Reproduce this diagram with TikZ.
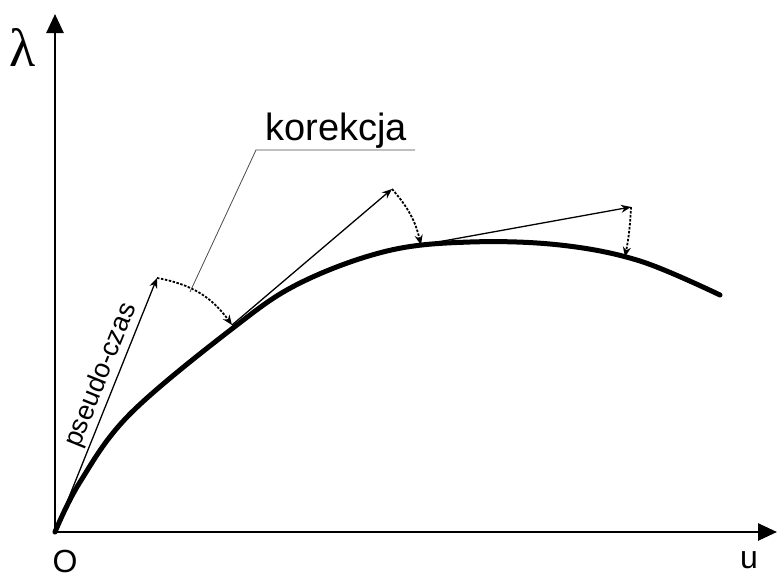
\documentclass[tikz,border=0pt]{standalone}
\usepackage{fontspec}
\setmainfont{Liberation Sans}
\newfontfamily\greekfont{Liberation Serif}
\usetikzlibrary{arrows.meta}
\begin{document}
\begin{tikzpicture}[x=1pt,y=-1pt,
  axis/.style={line width=2.6pt,-{Triangle[length=19pt,width=17pt]}},
  pathcurve/.style={line width=5pt,line cap=round,line join=round},
  predictor/.style={line width=1.3pt,-{Stealth[length=10pt,width=8pt]}},
  corrector/.style={line width=1.8pt,dash pattern=on 2.5pt off 1.5pt,-{Stealth[length=10pt,width=8pt]}},
  leader/.style={line width=0.8pt,draw=black!70},
  lbl/.style={inner sep=0pt}]
\useasboundingbox[fill=white] (0,0) rectangle (777,579);
% axes
\coordinate (O) at (55,532);
\coordinate (Ytop) at (55,14);
\coordinate (Xend) at (777,532);
\draw[axis] (O) -- (Ytop);
\draw[axis] (O) -- (Xend);
\node[lbl,font=\fontsize{54}{54}\selectfont\greekfont] (lam) at (23,47) {λ};
\node[lbl,font=\fontsize{32}{32}\selectfont] (onode) at (65,561) {O};
\node[lbl,font=\fontsize{32}{32}\selectfont] (unode) at (749,560) {u};
% equilibrium path
\draw[pathcurve] plot[smooth,tension=0.6] coordinates
 {(55,532) (80,482) (130,414) (233,328) (300,283) (387,251) (470,242)
  (560,245) (640,261) (720,295)};
% points
\coordinate (P1) at (157,278);
\coordinate (C1) at (232,325);
\coordinate (P2) at (392,189);
\coordinate (C2) at (421,245);
\coordinate (P3) at (631,207);
\coordinate (C3) at (625,257);
% predictors
\draw[predictor] (O) -- (P1);
\node[font=\fontsize{27}{27}\selectfont,rotate=68,anchor=base,inner sep=0pt] (ps) at (108,378) {pseudo-czas};
\draw[predictor] (C1) -- (P2);
\draw[predictor] (C2) -- (P3);
% correctors
\draw[corrector] (P1) to[bend left=22] (C1);
\draw[corrector] (P2) to[bend left=14] (C2);
\draw[corrector] (P3) to[bend left=4] (C3);
% label korekcja
\node[lbl,font=\fontsize{38}{38}\selectfont,anchor=base] (kor) at (336,140) {korekcja};
\coordinate (K1) at (256,150);
\coordinate (K2) at (415,150);
\coordinate (L) at (190,292);
\draw[leader] (K2) -- (K1) -- (L);
\end{tikzpicture}
\end{document}
